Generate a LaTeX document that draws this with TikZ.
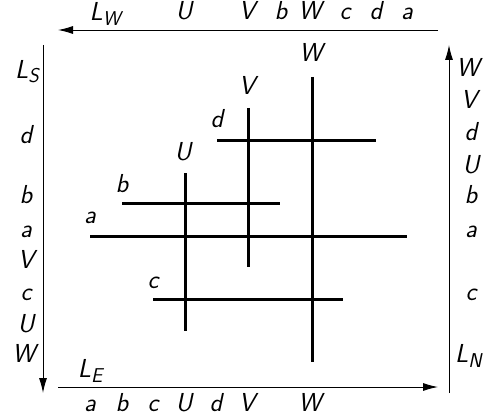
\documentclass[tikz,border=0pt]{standalone}
\usetikzlibrary{arrows.meta}
\newcommand{\sub}[1]{\raisebox{-5pt}{\fontsize{20}{22}\selectfont #1}}
\begin{document}
\begin{tikzpicture}[x=1pt,y=-1pt,
  lab/.style={anchor=base,inner sep=0pt,font=\fontsize{26}{30}\selectfont\sffamily\slshape},
  labw/.style={lab,anchor=base west},
  seg/.style={line width=3pt},
  axis/.style={line width=0.9pt,-{Latex[length=15pt,width=8pt]}}]
\useasboundingbox (0,0) rectangle (485,420);
% axes
\coordinate (tR) at (438,30); \coordinate (tL) at (58,30);
\coordinate (lT) at (43,45); \coordinate (lB) at (43,393);
\coordinate (bL) at (58,387); \coordinate (bR) at (438,387);
\coordinate (rB) at (449,393); \coordinate (rT) at (449,45);
\draw[axis] (tR) -- (tL);
\draw[axis] (lT) -- (lB);
\draw[axis] (bL) -- (bR);
\draw[axis] (rB) -- (rT);
% segments
\coordinate (W1) at (312,77); \coordinate (W2) at (312,362);
\coordinate (V1) at (248,108); \coordinate (V2) at (248,267);
\coordinate (U1) at (185,173); \coordinate (U2) at (185,331);
\coordinate (d1) at (217,140); \coordinate (d2) at (376,140);
\coordinate (b1) at (122,203); \coordinate (b2) at (280,203);
\coordinate (a1) at (90,236); \coordinate (a2) at (407,236);
\coordinate (c1) at (153,299); \coordinate (c2) at (343,299);
\draw[seg] (W1) -- (W2);
\draw[seg] (V1) -- (V2);
\draw[seg] (U1) -- (U2);
\draw[seg] (d1) -- (d2);
\draw[seg] (b1) -- (b2);
\draw[seg] (a1) -- (a2);
\draw[seg] (c1) -- (c2);
% segment labels
\node[lab] (lW) at (311,62) {W};
\node[lab] (lV) at (247,95) {V};
\node[lab] (ld) at (217,128) {d};
\node[lab] (lU) at (183,160) {U};
\node[lab] (lb) at (122,192) {b};
\node[lab] (la) at (90,223) {a};
\node[lab] (lc) at (153,288) {c};
% top labels
\node[lab] (tLW) at (105,21) {L\sub{W}};
\node[lab] (t1) at (184,20) {U};
\node[lab] (t2) at (247,20) {V};
\node[lab] (t3) at (281,20) {b};
\node[lab] (t4) at (310,20) {W};
\node[lab] (t5) at (345,20) {c};
\node[lab] (t6) at (376,20) {d};
\node[lab] (t7) at (407,20) {a};
% left labels
\node[lab] (lLS) at (27,78) {L\sub{S}};
\node[lab] (l1) at (26,143) {d};
\node[lab] (l2) at (26,203) {b};
\node[lab] (l3) at (26,237) {a};
\node[lab] (l4) at (26,268) {V};
\node[lab] (l5) at (26,300) {c};
\node[lab] (l6) at (26,332) {U};
\node[lab] (l7) at (24,362) {W};
% right labels
\node[lab] (r1) at (468,77) {W};
\node[lab] (r2) at (469,108) {V};
\node[lab] (r3) at (471,140) {d};
\node[lab] (r4) at (471,173) {U};
\node[lab] (r5) at (471,203) {b};
\node[lab] (r6) at (471,237) {a};
\node[lab] (r7) at (471,300) {c};
\node[labw] (rLN) at (455,362) {L\sub{N}};
% bottom labels
\node[lab] (bLE) at (90,377) {L\sub{E}};
\node[lab] (b1l) at (90,411) {a};
\node[lab] (b2l) at (122,411) {b};
\node[lab] (b3l) at (153,411) {c};
\node[lab] (b4l) at (184,411) {U};
\node[lab] (b5l) at (216,411) {d};
\node[lab] (b6l) at (247,411) {V};
\node[lab] (b7l) at (310,411) {W};
\end{tikzpicture}
\end{document}
